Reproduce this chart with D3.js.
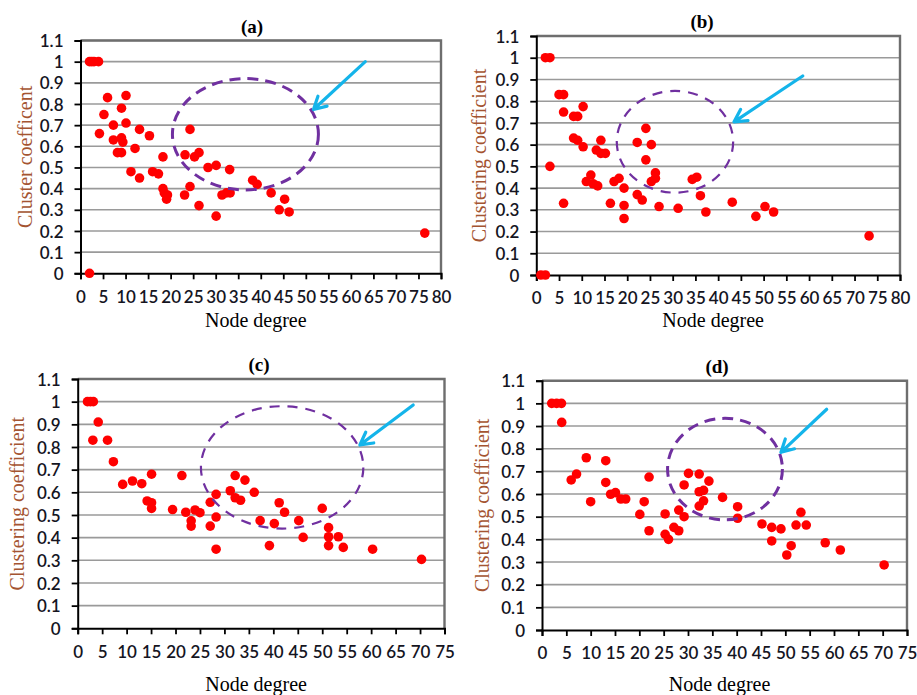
<!DOCTYPE html>
<html>
<head>
<meta charset="utf-8">
<script src="https://cdn.jsdelivr.net/npm/d3@7"></script>
<style>
  body { margin: 0; background: #fff; }
  .tick text { font-family: Lato, "Liberation Sans", sans-serif; font-size: 17px; font-weight: 600; fill: #15151f; }
  .ttl { font-family: "Liberation Serif", serif; font-weight: bold; font-size: 19px; }
  .ylab { font-family: "Liberation Serif", serif; font-size: 20px; fill: #a45431; }
  .xlab { font-family: "Liberation Serif", serif; font-size: 20px; fill: #000; }
</style>
</head>
<body>
<div id="chart"></div>
<script>
(function () {
    var width = 917,
        height = 695;

    // node degree / clustering coefficient
    var degreeA = [2, 2.5, 3, 4, 2, 4.2, 5.2, 6, 7.3, 7.3, 8.2, 9.1, 9.1, 9.1, 9.4, 10.1, 10.1, 12.1, 11.2, 13.1, 13.1, 15.3, 16, 17.3, 18.3, 18.3, 18.6, 19.3, 19.1, 23.1, 23.2, 24.3, 24.3, 25.3, 26.3, 26.3, 28.3, 30.1, 30.1, 31.4, 32.4, 33.1, 33.2, 38.2, 39.2, 42.3, 44.1, 45.3, 46.3, 76.4];
    var coeffA = [1, 1, 1, 1, 0, 0.66, 0.75, 0.83, 0.70, 0.63, 0.57, 0.57, 0.78, 0.64, 0.62, 0.84, 0.71, 0.59, 0.48, 0.45, 0.68, 0.65, 0.48, 0.47, 0.55, 0.40, 0.38, 0.37, 0.35, 0.37, 0.56, 0.68, 0.41, 0.55, 0.57, 0.32, 0.50, 0.51, 0.27, 0.37, 0.38, 0.49, 0.38, 0.44, 0.42, 0.38, 0.30, 0.35, 0.29, 0.19];

    var degreeB = [1, 2, 2, 3, 3, 5, 6, 6, 6, 8.2, 9.1, 10.3, 8.2, 9.1, 10.3, 11, 12, 12.5, 13.5, 13.2, 14.2, 15.2, 14.2, 16.3, 17.1, 18.2, 19.3, 19.3, 19.3, 22.2, 22.2, 23.3, 24.1, 24.1, 25.3, 25.3, 26.2, 26.2, 27, 31.2, 34.3, 35.3, 36.1, 37.3, 43.1, 48.3, 50.3, 52.2, 73.2];
    var coeffB = [0, 0, 1, 1, 0.5, 0.83, 0.83, 0.75, 0.33, 0.73, 0.73, 0.775, 0.63, 0.62, 0.59, 0.43, 0.46, 0.42, 0.41, 0.575, 0.56, 0.56, 0.62, 0.33, 0.43, 0.445, 0.40, 0.32, 0.26, 0.61, 0.37, 0.345, 0.675, 0.53, 0.60, 0.43, 0.445, 0.47, 0.315, 0.307, 0.44, 0.45, 0.365, 0.29, 0.335, 0.27, 0.315, 0.29, 0.18];

    var degreeC = [2, 2.6, 3.2, 4.2, 3.1, 6.1, 7.3, 9.2, 11.2, 13.1, 15.1, 14.2, 15.1, 15.1, 19.4, 21.3, 22.1, 24, 25, 23.2, 23.2, 27.1, 27.1, 28.3, 28.3, 28.3, 31.2, 32.2, 32.2, 33.3, 34.2, 36.1, 37.3, 39.2, 40.2, 41.2, 42.3, 45.2, 46.1, 50, 51.3, 51.3, 51.3, 53.3, 54.3, 60.3, 70.3];
    var coeffC = [1, 1, 1, 0.91, 0.83, 0.83, 0.735, 0.635, 0.65, 0.638, 0.68, 0.562, 0.554, 0.529, 0.524, 0.674, 0.512, 0.522, 0.51, 0.474, 0.451, 0.556, 0.451, 0.591, 0.491, 0.349, 0.607, 0.674, 0.576, 0.565, 0.654, 0.60, 0.475, 0.365, 0.462, 0.554, 0.512, 0.475, 0.401, 0.529, 0.444, 0.404, 0.365, 0.404, 0.357, 0.349, 0.304];

    var degreeD = [2, 3, 4, 4.05, 6, 7.1, 9.1, 10, 13.1, 13.1, 14.1, 15.1, 16.2, 17.2, 20.1, 21, 22, 22, 25.3, 25.3, 26, 27.1, 28.1, 28.1, 29.2, 29.2, 30.1, 32.3, 32.3, 33.2, 32.3, 33.2, 34.3, 37.1, 40.2, 40.2, 45.2, 47.2, 47.2, 49.1, 50.3, 51.2, 52.2, 53.2, 54.3, 58.2, 61.3, 70.3];
    var coeffD = [1, 1, 1, 0.916, 0.662, 0.688, 0.76, 0.566, 0.747, 0.651, 0.599, 0.606, 0.578, 0.578, 0.51, 0.566, 0.675, 0.438, 0.512, 0.422, 0.40, 0.453, 0.438, 0.529, 0.50, 0.64, 0.691, 0.688, 0.61, 0.616, 0.547, 0.57, 0.657, 0.585, 0.544, 0.493, 0.468, 0.453, 0.393, 0.446, 0.331, 0.372, 0.463, 0.519, 0.463, 0.385, 0.353, 0.287];

    var titles = ["(a)", "(b)", "(c)", "(d)"];
    var yTitles = ["Cluster coefficent", "Clustering coefficient", "Clustering coefficient", "Clustering coefficient"];
    var xMaxes = [80, 80, 75, 75];
    var yTicks = [0, 0.1, 0.2, 0.3, 0.4, 0.5, 0.6, 0.7, 0.8, 0.9, 1, 1.1];

    // ellipse [cx, cy, rx, ry] and arrow [x1, y1, x2, y2] in data units
    var ellipses = [[36.6, 0.657, 16.2, 0.263], [30.5, 0.613, 12.8, 0.234], [41.8, 0.71, 16.6, 0.27], [37.6, 0.71, 11.8, 0.224]];
    var arrows = [[63.2, 1.0, 51.7, 0.774], [58.6, 0.916, 43.5, 0.705], [68.6, 0.985, 57.7, 0.809], [58.5, 0.974, 49.1, 0.784]];

    var series = [[degreeA, coeffA], [degreeB, coeffB], [degreeC, coeffC], [degreeD, coeffD]];

    // plot boxes
    var boxes = [
        {l: 80.5, r: 441, t: 40.5, b: 273.3, tx: 252, ylx: 25, xly: 320, dash: "11,7", ew: 3},
        {l: 536.3, r: 900, t: 36, b: 275, tx: 702, ylx: 479, xly: 320, dash: "10,8", ew: 2.2},
        {l: 77.7, r: 444.5, t: 379, b: 628.3, tx: 259, ylx: 17, xly: 684, dash: "10,8", ew: 2.2},
        {l: 542, r: 907, t: 380.7, b: 630, tx: 717, ylx: 482, xly: 684, dash: "11,7", ew: 3}
    ];

    var svg = d3.select("#chart")
        .append("svg")
        .attr("width", width)
        .attr("height", height)
        .style("background", "#fff");

    boxes.forEach(function (bx, i) {
        var x = d3.scaleLinear().domain([0, xMaxes[i]]).range([bx.l, bx.r]);
        var y = d3.scaleLinear().domain([0, 1.1]).range([bx.b, bx.t]);
        var g = svg.append("g");

        // gridlines
        g.selectAll(".grid")
            .data(yTicks.slice(1))
            .enter().append("line")
            .attr("x1", bx.l).attr("x2", bx.r)
            .attr("y1", function (d) { return y(d); })
            .attr("y2", function (d) { return y(d); })
            .style("stroke", "#9a9a9a")
            .style("stroke-width", 1.6);

        // frame top and right
        g.append("path")
            .attr("d", "M" + bx.l + "," + bx.t + "H" + bx.r + "V" + bx.b)
            .style("fill", "none")
            .style("stroke", "#6e6e6e")
            .style("stroke-width", 2.4);

        var xAxis = g.append("g")
            .attr("transform", "translate(0," + bx.b + ")")
            .call(d3.axisBottom(x).tickValues(d3.range(0, xMaxes[i] + 1, 5)).tickSize(6).tickPadding(8));
        var yAxis = g.append("g")
            .attr("transform", "translate(" + bx.l + ",0)")
            .call(d3.axisLeft(y).tickValues(yTicks).tickSize(6).tickPadding(11)
                .tickFormat(function (d) { return d3.format("~g")(d); }));
        [xAxis, yAxis].forEach(function (a) {
            a.select(".domain").style("stroke", "#000").style("stroke-width", 2);
            a.selectAll(".tick line").style("stroke", "#000").style("stroke-width", 1.8);
        });
        xAxis.selectAll(".tick text").attr("dy", "0.9em");
        yAxis.selectAll(".tick text").attr("dy", "0.36em");

        var xs = series[i][0], ys = series[i][1];
        g.selectAll(".dot")
            .data(xs)
            .enter().append("circle")
            .attr("cx", function (d) { return x(d); })
            .attr("cy", function (d, j) { return y(ys[j]); })
            .attr("r", 4.8)
            .style("fill", "#ff0000");

        var e = ellipses[i];
        g.append("ellipse")
            .attr("cx", x(e[0])).attr("cy", y(e[1]))
            .attr("rx", x(e[2]) - x(0)).attr("ry", y(0) - y(e[3]))
            .style("fill", "none")
            .style("stroke", "#7030a0")
            .style("stroke-width", bx.ew)
            .style("stroke-dasharray", bx.dash);

        var a = arrows[i];
        var x1 = x(a[0]), y1 = y(a[1]), x2 = x(a[2]), y2 = y(a[3]);
        var ang = Math.atan2(y2 - y1, x2 - x1), hl = 14;
        g.append("path")
            .attr("d", "M" + x1 + "," + y1 + "L" + x2 + "," + y2 +
                "M" + (x2 - hl * Math.cos(ang - 0.5)) + "," + (y2 - hl * Math.sin(ang - 0.5)) +
                "L" + x2 + "," + y2 +
                "L" + (x2 - hl * Math.cos(ang + 0.5)) + "," + (y2 - hl * Math.sin(ang + 0.5)))
            .style("fill", "none")
            .style("stroke", "#14b4ea")
            .style("stroke-width", 3.2)
            .style("stroke-linecap", "round")
            .style("stroke-linejoin", "round");

        g.append("text")
            .attr("class", "ttl")
            .attr("x", bx.tx)
            .attr("y", bx.t - 8)
            .attr("text-anchor", "middle")
            .text(titles[i]);

        g.append("text")
            .attr("class", "ylab")
            .attr("transform", "translate(" + bx.ylx + "," + ((bx.t + bx.b) / 2) + ") rotate(-90)")
            .attr("text-anchor", "middle")
            .attr("dy", "0.35em")
            .text(yTitles[i]);

        g.append("text")
            .attr("class", "xlab")
            .attr("x", (bx.l + bx.r) / 2 - 5)
            .attr("y", bx.xly)
            .attr("text-anchor", "middle")
            .attr("dy", "0.35em")
            .text("Node degree");
    });
})();
</script>
</body>
</html>
